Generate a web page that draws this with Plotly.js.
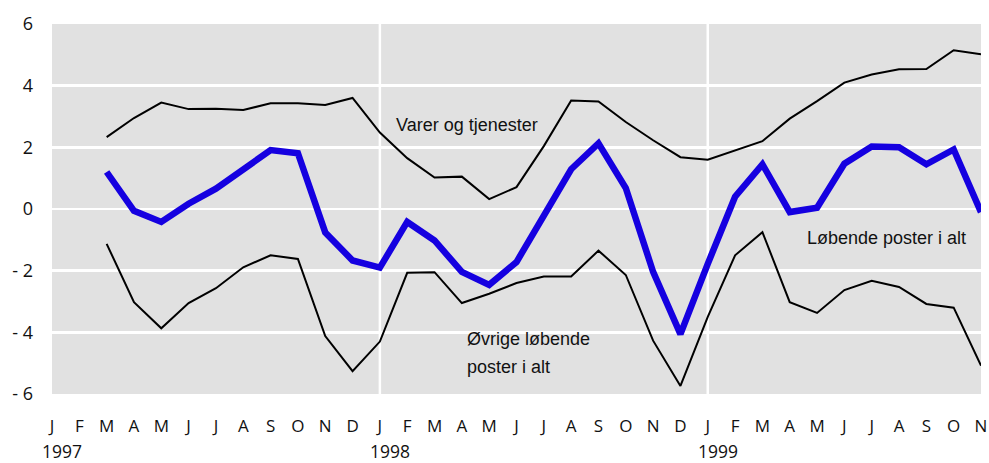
<!DOCTYPE html>
<html>
<head>
<meta charset="utf-8">
<script src="https://cdn.plot.ly/plotly-3.0.1.min.js"></script>
<style>
html,body{margin:0;padding:0;background:#fff;}
#chart{width:989px;height:463px;}
</style>
</head>
<body>
<div id="chart"></div>
<script>
// Months J 1997 .. N 1999 (index 0..34); data start at M 1997 (index 2)
const monthLetters = ["J","F","M","A","M","J","J","A","S","O","N","D",
                      "J","F","M","A","M","J","J","A","S","O","N","D",
                      "J","F","M","A","M","J","J","A","S","O","N"];
const yearLabels = ["1997","1998","1999"];
const yearIndex = [0, 12, 24];
const dataStart = 2;

const varerOgTjenester = [2.33, 2.95, 3.45, 3.24, 3.25, 3.21, 3.43, 3.43, 3.37, 3.6,
  2.48, 1.65, 1.02, 1.05, 0.32, 0.71, 2.04, 3.52, 3.49, 2.82, 2.23, 1.68,
  1.6, 1.9, 2.2, 2.93, 3.5, 4.1, 4.36, 4.53, 4.54, 5.15, 5.02];

const lobendePoster = [1.2, -0.06, -0.42, 0.17, 0.66, 1.31, 1.91, 1.81, -0.76, -1.67,
  -1.9, -0.42, -1.02, -2.04, -2.46, -1.72, -0.19, 1.29, 2.13, 0.68, -2.04, -4.06,
  -1.78, 0.4, 1.45, -0.1, 0.04, 1.47, 2.03, 2.0, 1.45, 1.93, -0.1];

const ovrigeLobende = [-1.13, -3.02, -3.87, -3.05, -2.57, -1.89, -1.5, -1.62, -4.12, -5.26,
  -4.3, -2.07, -2.05, -3.05, -2.75, -2.4, -2.19, -2.19, -1.35, -2.14, -4.27, -5.74,
  -3.5, -1.5, -0.75, -3.02, -3.37, -2.63, -2.33, -2.53, -3.08, -3.2, -5.08];

const yTickVals = [-6, -4, -2, 0, 2, 4, 6];
const yTickText = ["- 6", "- 4", "- 2", "0", "2", "4", "6"];

const xs = varerOgTjenester.map((_, i) => i + dataStart);
const allIdx = monthLetters.map((_, i) => i);

const fontFam = "Open Sans, Liberation Sans, Arial, sans-serif";
const annFont = "Liberation Sans Narrow, Arial Narrow, Liberation Sans, Arial, sans-serif";

const traces = [
  {x: xs, y: varerOgTjenester, type: "scatter", mode: "lines",
   line: {color: "#000000", width: 2}, hoverinfo: "skip"},
  {x: xs, y: ovrigeLobende, type: "scatter", mode: "lines",
   line: {color: "#000000", width: 2}, hoverinfo: "skip"},
  {x: xs, y: lobendePoster, type: "scatter", mode: "lines",
   line: {color: "#1500e0", width: 6.5}, hoverinfo: "skip"}
];

const annotations = [
  {x: 12.5, y: 2.72, xref: "x", yref: "y", text: "Varer og tjenester", showarrow: false,
   xanchor: "left", yanchor: "middle", font: {family: annFont, size: 18, color: "#111"}},
  {x: 27.55, y: -0.93, xref: "x", yref: "y", text: "Løbende poster i alt", showarrow: false,
   xanchor: "left", yanchor: "middle", font: {family: annFont, size: 18, color: "#111"}},
  {x: 15.1, y: -4.2, xref: "x", yref: "y", text: "Øvrige løbende", showarrow: false,
   xanchor: "left", yanchor: "middle", font: {family: annFont, size: 18, color: "#111"}},
  {x: 15.1, y: -5.14, xref: "x", yref: "y", text: "poster i alt", showarrow: false,
   xanchor: "left", yanchor: "middle", font: {family: annFont, size: 18, color: "#111"}}
];
yearIndex.forEach((xi, k) => {
  annotations.push({x: xi + 0.37, y: -0.153, xref: "x", yref: "paper", text: yearLabels[k],
    showarrow: false, xanchor: "center", yanchor: "middle", borderpad: 0,
    font: {family: fontFam, size: 17.5, color: "#111"}});
});

const layout = {
  width: 989, height: 463,
  margin: {l: 52, r: 8, t: 24, b: 69},
  paper_bgcolor: "#ffffff",
  plot_bgcolor: "#e1e1e1",
  showlegend: false,
  xaxis: {
    range: [0, 34], tickmode: "array", tickvals: allIdx, ticktext: monthLetters,
    showgrid: false, zeroline: false, showline: false, ticks: "",
    ticklabelstandoff: 20,
    tickfont: {family: fontFam, size: 17, color: "#111"}, fixedrange: true
  },
  yaxis: {
    range: [-6, 6], tickmode: "array", tickvals: yTickVals, ticktext: yTickText,
    showgrid: true, gridcolor: "#ffffff", gridwidth: 2.5, zeroline: false,
    showline: false, ticks: "", ticklabelstandoff: 18,
    tickfont: {family: fontFam, size: 18, color: "#111"}, fixedrange: true
  },
  shapes: [12, 24].map(v => ({type: "line", xref: "x", yref: "paper", x0: v, x1: v, y0: 0, y1: 1,
    line: {color: "#ffffff", width: 2.5}, layer: "below"})),
  annotations: annotations
};

Plotly.newPlot("chart", traces, layout, {staticPlot: true, displayModeBar: false});
</script>
</body>
</html>
